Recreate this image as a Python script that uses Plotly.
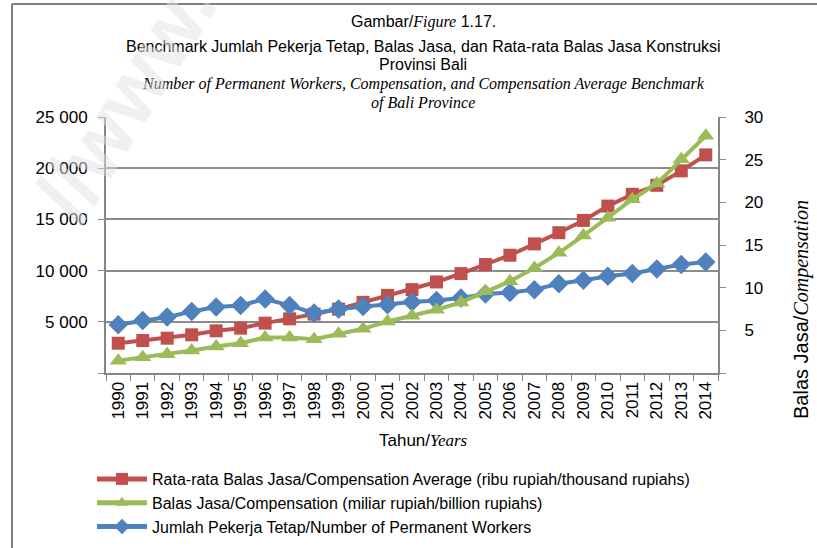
import plotly.graph_objs as go

years = [str(y) for y in range(1990, 2015)]

# Rata-rata Balas Jasa (ribu rupiah) - left axis
avg_comp = [2910, 3170, 3400, 3730, 4120, 4380, 4870, 5290, 5750, 6240, 6900, 7580, 8140,
            8890, 9710, 10590, 11500, 12610, 13700, 14900, 16300, 17450, 18330, 19740, 21300]
# Balas Jasa (miliar rupiah) - right axis
comp = [1.45, 1.84, 2.2, 2.63, 3.1, 3.49, 4.16, 4.16, 3.96, 4.59, 5.18, 6.04, 6.7,
        7.41, 8.27, 9.57, 10.75, 12.3, 14.08, 16.1, 18.2, 20.35, 22.2, 25.06, 27.8]
# Jumlah Pekerja Tetap - left axis
workers = [4706, 5130, 5460, 6010, 6440, 6600, 7220, 6600, 5850, 6240, 6500, 6670, 6930,
           7090, 7320, 7710, 7870, 8140, 8720, 9050, 9440, 9710, 10160, 10590, 10850]

left_ticks = [0, 5000, 10000, 15000, 20000, 25000]
left_labels = ["", "5 000", "10 000", "15 000", "20 000", "25 000"]
right_ticks = [0, 5, 10, 15, 20, 25, 30]
right_labels = ["", "5", "10", "15", "20", "25", "30"]

SERIF = "font-family:Liberation Serif,Times New Roman,serif"


def it(s):
    return "<i><span style='%s'>%s</span></i>" % (SERIF, s)


fig = go.Figure()
fig.add_trace(go.Scatter(
    x=years, y=avg_comp, mode='lines+markers', legendgroup='a',
    name='Rata-rata Balas Jasa/Compensation Average (ribu rupiah/thousand rupiahs)',
    line=dict(color='#C0504D', width=4),
    marker=dict(symbol='square', size=13, color='#C0504D')
))
fig.add_trace(go.Scatter(
    x=years, y=comp, mode='lines+markers', yaxis='y2', legendgroup='b',
    name='Balas Jasa/Compensation (miliar rupiah/billion rupiahs)',
    line=dict(color='#9BBB59', width=4),
    marker=dict(symbol='triangle-up', size=15, color='#9BBB59')
))
fig.add_trace(go.Scatter(
    x=years, y=workers, mode='lines+markers', legendgroup='c',
    name='Jumlah Pekerja Tetap/Number of Permanent Workers',
    line=dict(color='#4F81BD', width=4),
    marker=dict(symbol='diamond', size=15, color='#4F81BD')
))

W, H = 817, 548
L, R, T, B = 106, 99, 117, 175
pw, ph = W - L - R, H - T - B


def px(x):
    return (x - L) / pw


def py(y):
    return (H - B - y) / ph


title_lines = [
    ("Gambar/" + it("Figure") + " 1.17.", 22),
    ("Benchmark Jumlah Pekerja Tetap, Balas Jasa, dan Rata-rata Balas Jasa Konstruksi", 46),
    ("Provinsi Bali", 64),
    (it("Number of Permanent Workers, Compensation, and Compensation Average Benchmark"), 84),
    (it("of Bali Province"), 103),
]
annotations = [
    dict(text=t, x=px(423), y=py(yy), xref='paper', yref='paper', showarrow=False,
         xanchor='center', yanchor='middle', font=dict(size=16, color='#000'))
    for t, yy in title_lines
]
annotations += [
    dict(text="Tahun/" + it("Years"), x=px(423), y=py(440), xref='paper', yref='paper',
         showarrow=False, xanchor='center', yanchor='middle', font=dict(size=17, color='#000')),
    dict(text="Balas Jasa/" + it("Compensation"), x=px(801), y=py(310), xref='paper', yref='paper',
         showarrow=False, textangle=-90, xanchor='center', yanchor='middle',
         font=dict(size=20, color='#000')),
    dict(text="Rata-rata Balas Jasa/" + it("Compensation Average"), x=px(826), y=py(330),
         xref='paper', yref='paper', showarrow=False, textangle=-90, xanchor='center',
         yanchor='middle', font=dict(size=20, color='#000')),
    dict(text="//www.", x=px(125), y=py(100), xref='paper', yref='paper', showarrow=False,
         textangle=-58, xanchor='center', yanchor='middle',
         font=dict(size=84, color='rgba(225,225,225,0.5)', family='Liberation Sans', weight='bold')),
]

fig.update_layout(
    width=W, height=H,
    margin=dict(l=L, r=R, t=T, b=B, pad=0, autoexpand=False),
    paper_bgcolor='white', plot_bgcolor='white',
    font=dict(family='Liberation Sans, Arial, sans-serif', size=16, color='#000'),
    showlegend=True,
    legend=dict(x=px(92), y=py(462), xanchor='left', yanchor='top', traceorder='grouped',
                tracegroupgap=0, font=dict(size=16), itemwidth=50, itemsizing='constant',
                bgcolor='rgba(0,0,0,0)'),
    xaxis=dict(type='category', range=[-0.5, 24.5], tickangle=-90, tickson='boundaries',
               ticks='outside', ticklen=6, tickcolor='#868686', showline=True,
               linecolor='#868686', linewidth=2, showgrid=False, tickfont=dict(size=17),
               automargin=False),
    yaxis=dict(range=[0, 25000], tickvals=left_ticks, ticktext=left_labels,
               ticks='outside', ticklen=6, tickcolor='#868686', showline=True,
               linecolor='#868686', linewidth=2, showgrid=True, gridcolor='#8c8c8c',
               gridwidth=1.5, zeroline=False, tickfont=dict(size=17), ticklabelstandoff=7,
               automargin=False),
    yaxis2=dict(range=[0, 30], tickvals=right_ticks, ticktext=right_labels, overlaying='y',
                side='right', ticks='outside', ticklen=6, tickcolor='#868686', showline=True,
                linecolor='#868686', linewidth=2, showgrid=False, zeroline=False,
                tickfont=dict(size=17), ticklabelstandoff=15, automargin=False),
    annotations=annotations,
    shapes=[
        dict(type='line', xref='paper', yref='paper', x0=px(12), x1=px(817), y0=py(4), y1=py(4),
             line=dict(color='#808080', width=2), layer='above'),
        dict(type='line', xref='paper', yref='paper', x0=px(12), x1=px(12), y0=py(4), y1=py(548),
             line=dict(color='#808080', width=2), layer='above'),
    ],
)

# the page body has a default 8px margin; drop it so the figure sits at the window corner
fig.write_html("out.html", config={'displayModeBar': False},
               post_script="document.body.style.margin='0px';")
